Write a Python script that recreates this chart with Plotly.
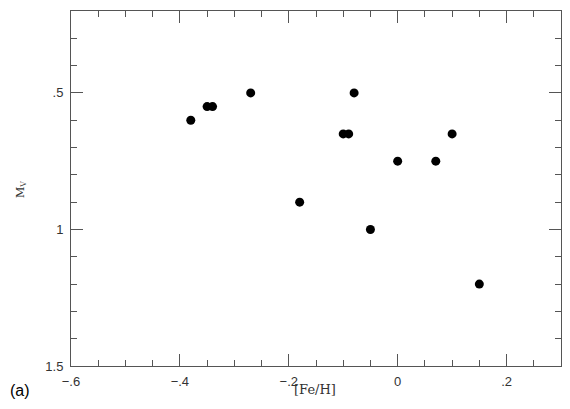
import plotly.graph_objects as go

fe_h = [-0.38, -0.35, -0.34, -0.27, -0.18, -0.10, -0.09, -0.08, -0.05, 0.00, 0.07, 0.10, 0.15]
m_v = [0.60, 0.55, 0.55, 0.50, 0.90, 0.65, 0.65, 0.50, 1.00, 0.75, 0.75, 0.65, 1.20]

x_tickvals = [-0.6, -0.4, -0.2, 0.0, 0.2]
x_ticktext = ["\u2212.6", "\u2212.4", "\u2212.2", "0", ".2"]
y_tickvals = [0.5, 1.0, 1.5]
y_ticktext = [".5", "1", "1.5"]

# page has an 8px body margin; size the figure so the page is exactly 570x409
OFF = 8
W, H = 570 - 2 * OFF, 409 - 2 * OFF
ML, MR, MT, MB = 71 - OFF, 1, 11 - OFF, H - (366 - OFF)

fig = go.Figure()
fig.add_trace(go.Scatter(x=fe_h, y=m_v, mode="markers",
                         marker=dict(color="black", size=9, line=dict(width=0)),
                         showlegend=False))

axcol = "#555555"
tfont = dict(family="Liberation Sans", size=13, color="#333333")
fig.update_xaxes(range=[-0.6, 0.3], tickvals=x_tickvals, ticktext=x_ticktext,
                 ticks="inside", ticklen=12, tickwidth=1, tickcolor=axcol,
                 showline=True, linecolor=axcol, linewidth=1, mirror="allticks",
                 showgrid=False, zeroline=False, automargin=False, ticklabelstandoff=3,
                 minor=dict(dtick=0.05, tick0=0, ticks="inside", ticklen=6, tickcolor=axcol, showgrid=False),
                 tickfont=tfont)
fig.update_yaxes(range=[1.5, 0.2], tickvals=y_tickvals, ticktext=y_ticktext,
                 ticks="inside", ticklen=12, tickwidth=1, tickcolor=axcol,
                 showline=True, linecolor=axcol, linewidth=1, mirror="allticks",
                 showgrid=False, zeroline=False, automargin=False, ticklabelstandoff=4,
                 minor=dict(dtick=0.1, tick0=0, ticks="inside", ticklen=6, tickcolor=axcol, showgrid=False),
                 tickfont=tfont)

pw, ph = W - ML - MR, H - MT - MB
def px(xp): return (xp - OFF - ML) / pw
def py(yp): return (H - MB - (yp - OFF)) / ph

fig.add_annotation(text="[Fe/H]", x=px(315), y=py(390), xref="paper", yref="paper",
                   showarrow=False, xanchor="center", yanchor="middle",
                   font=dict(family="DejaVu Serif", size=13, color="#333333"))
fig.add_annotation(text="M<sub>V</sub>", x=px(21), y=py(190), xref="paper", yref="paper",
                   showarrow=False, textangle=-90, xanchor="center", yanchor="middle",
                   font=dict(family="DejaVu Serif", size=11, color="#333333"))
fig.add_annotation(text="(a)", x=px(20), y=py(391), xref="paper", yref="paper",
                   showarrow=False, xanchor="center", yanchor="middle",
                   font=dict(family="Liberation Sans", size=16, color="black"))

fig.update_layout(width=W, height=H, margin=dict(l=ML, r=MR, t=MT, b=MB),
                  paper_bgcolor="white", plot_bgcolor="white")

fig.write_html("out.html")
